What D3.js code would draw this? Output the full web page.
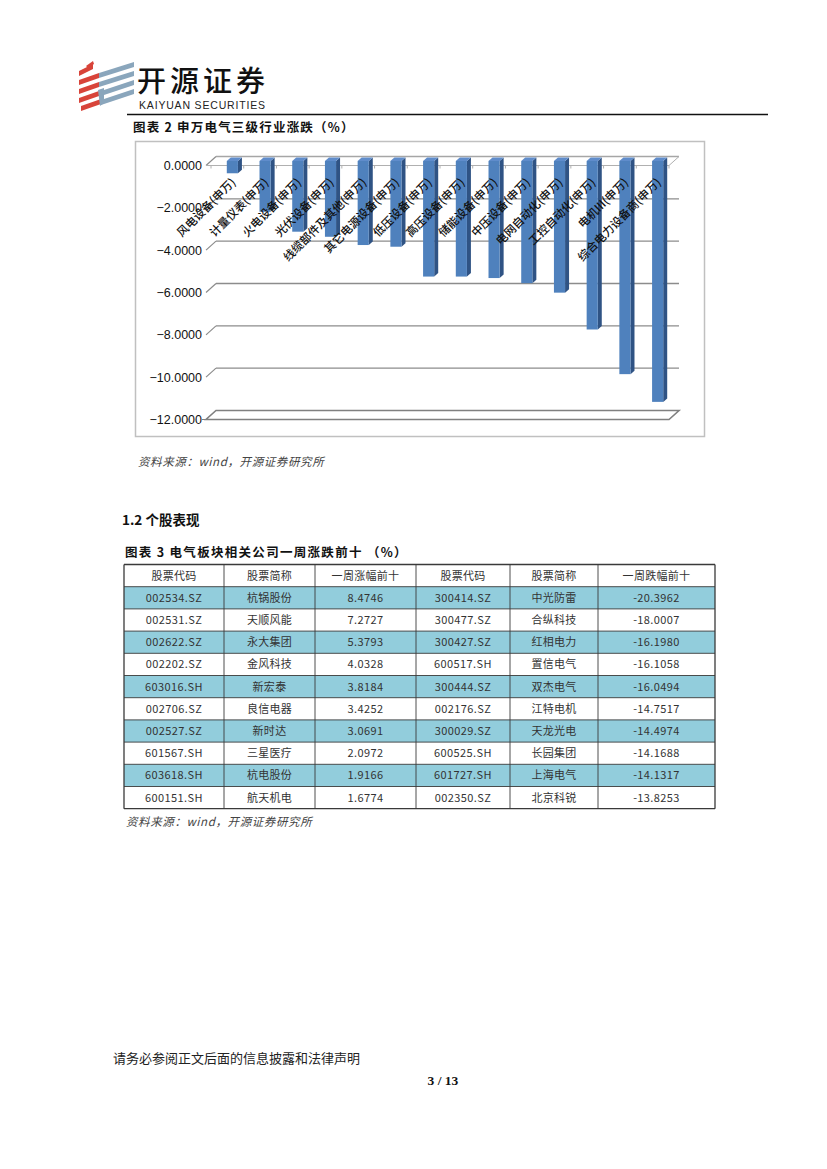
<!DOCTYPE html>
<html><head><meta charset="utf-8">
<script src="https://cdn.jsdelivr.net/npm/d3@7/dist/d3.min.js"></script>
<style>
html,body{margin:0;padding:0;background:#fff;}
svg{display:block;}
</style></head>
<body>
<svg id="page" width="827" height="1169"></svg>
<script>
// ---------- data ----------
const categories = ["风电设备(申万)","计量仪表(申万)","火电设备(申万)","光伏设备(申万)","线缆部件及其他(申万)","其它电源设备(申万)","低压设备(申万)","高压设备(申万)","储能设备(申万)","中压设备(申万)","电网自动化(申万)","工控自动化(申万)","电机III(申万)","综合电力设备商(申万)"];
const values = [-0.58,-2.40,-3.34,-3.58,-3.97,-4.05,-5.46,-5.46,-5.53,-5.77,-6.22,-7.96,-10.07,-11.38];
const yTicks = [0,-2,-4,-6,-8,-10,-12];

const tableHeaders = ["股票代码","股票简称","一周涨幅前十","股票代码","股票简称","一周跌幅前十"];
const upCodes = ["002534.SZ","002531.SZ","002622.SZ","002202.SZ","603016.SH","002706.SZ","002527.SZ","601567.SH","603618.SH","600151.SH"];
const upNames = ["杭锅股份","天顺风能","永大集团","金风科技","新宏泰","良信电器","新时达","三星医疗","杭电股份","航天机电"];
const upValues = ["8.4746","7.2727","5.3793","4.0328","3.8184","3.4252","3.0691","2.0972","1.9166","1.6774"];
const downCodes = ["300414.SZ","300477.SZ","300427.SZ","600517.SH","300444.SZ","002176.SZ","300029.SZ","600525.SH","601727.SH","002350.SZ"];
const downNames = ["中光防雷","合纵科技","红相电力","置信电气","双杰电气","江特电机","天龙光电","长园集团","上海电气","北京科锐"];
const downValues = ["-20.3962","-18.0007","-16.1980","-16.1058","-16.0494","-14.7517","-14.4974","-14.1688","-14.1317","-13.8253"];

// ---------- page ----------
const svg = d3.select("#page");
const CJK = "'Noto Sans CJK SC','Noto Sans',sans-serif";

// logo
const logo = svg.append("g");
const red = "#d8443a", blue = "#8aa6bc";
[[0,66],[0,75],[0,84],[0,93],[2,101]].forEach(([dx,yy],i)=>{
  const x0 = 79+dx, w = 20 - (i===0?6:0);
  logo.append("path").attr("fill",red)
    .attr("d",`M${x0},${yy+5} L${x0+w},${yy-2} L${x0+w},${yy+3} L${x0},${yy+10} Z`);
});
logo.append("path").attr("fill",red).attr("d","M86,66 L93,61 L94,64 L88,68 Z");
[[62],[71],[80],[89]].forEach(([yy],i)=>{
  const x0 = 99 + (i>1?2:0), x1 = 134;
  logo.append("path").attr("fill",blue)
    .attr("d",`M${x0},${yy+11} L${x1},${yy} L${x1},${yy+5} L${x0},${yy+16} Z`);
});
logo.append("path").attr("fill",blue).attr("d","M98,90 L104,88 L104,103 L100,106 Z");

svg.append("text").attr("x",137).attr("y",92).attr("font-family",CJK).attr("font-weight",500)
  .attr("font-size",29).attr("fill","#111").attr("textLength",128).text("开源证券");
svg.append("text").attr("x",139).attr("y",108.5).attr("font-family","'Liberation Sans',Arial,sans-serif")
  .attr("font-size",10.5).attr("fill","#222").attr("textLength",126).text("KAIYUAN SECURITIES");
svg.append("line").attr("x1",127).attr("x2",768).attr("y1",114.5).attr("y2",114.5).attr("stroke","#111").attr("stroke-width",1.3);

svg.append("text").attr("x",133).attr("y",132).attr("font-family",CJK).attr("font-weight",700)
  .attr("font-size",12.5).attr("letter-spacing",1.2).attr("fill","#111").text("图表 2 申万电气三级行业涨跌（%）");

// ---------- chart ----------
svg.append("rect").attr("x",135.5).attr("y",141.5).attr("width",569).attr("height",295)
  .attr("fill","#fff").attr("stroke","#c0c0c0").attr("stroke-width",1.5);

const PX0 = 211, PX1 = 674;   // mid-depth plot extents
const DX = 5, DY = -4.5;      // half-depth offset (towards back)
const x = d3.scaleBand().domain(categories).range([PX0+5, PX1]).padding(0);
const y = d3.scaleLinear().domain([0,-12]).range([161, 415]);

const chart = svg.append("g");
// back-wall gridlines with left diagonals
yTicks.filter(t=>t!==-12).forEach(t=>{
  chart.append("line").attr("x1",PX0+DX).attr("x2",PX1+DX).attr("y1",y(t)+DY).attr("y2",y(t)+DY)
    .attr("stroke",t===0?"#a6a6a6":"#8c8c8c").attr("stroke-width",1.3);
  chart.append("line").attr("x1",PX0-DX).attr("x2",PX0+DX).attr("y1",y(t)-DY).attr("y2",y(t)+DY)
    .attr("stroke","#8c8c8c").attr("stroke-width",1.2);
});
// floor at -12
const fy = -12;
chart.append("path").attr("fill","none").attr("stroke","#808080").attr("stroke-width",1.6)
  .attr("d",`M${PX0-DX},${y(fy)-DY} L${PX1-DX},${y(fy)-DY} L${PX1+DX},${y(fy)+DY} L${PX0+DX},${y(fy)+DY} Z`);
chart.append("line").attr("x1",PX0-DX-4).attr("x2",PX0-DX).attr("y1",y(fy)-DY).attr("y2",y(fy)-DY).attr("stroke","#808080");
// front category axis at 0
chart.append("line").attr("x1",PX0-DX).attr("x2",PX1-DX).attr("y1",y(0)-DY).attr("y2",y(0)-DY)
  .attr("stroke","#b0b0b0").attr("stroke-width",1);
chart.append("line").attr("x1",PX1-DX).attr("x2",PX1+DX).attr("y1",y(0)-DY).attr("y2",y(0)+DY)
  .attr("stroke","#b0b0b0").attr("stroke-width",1);
categories.concat([null]).forEach((c,i)=>{
  const xx = (c===null ? x.range()[1] : x(c)) - DX;
  chart.append("line").attr("x1",xx).attr("x2",xx).attr("y1",y(0)-DY).attr("y2",y(0)-DY+3)
    .attr("stroke","#b0b0b0");
});

// y tick labels
chart.selectAll("text.yt").data(yTicks).join("text").attr("class","yt")
  .attr("x",202).attr("y",t=>y(t)-DY).attr("dy","0.35em").attr("text-anchor","end")
  .attr("font-family","'Liberation Sans',Arial,sans-serif").attr("font-size",12.5).attr("fill","#111")
  .text(t=>d3.format(".4f")(t));

// bars
const bw = x.bandwidth()*0.34, bd = 4, bh = 3.5;
const bars = chart.selectAll("g.bar").data(categories.map((c,i)=>({c,v:values[i]}))).join("g").attr("class","bar");
bars.each(function(d){
  const g = d3.select(this);
  const xl = x(d.c) + (x.bandwidth()-bw)/2, xr = xl + bw;
  const y0 = y(0), y1 = y(d.v);
  g.append("path").attr("fill","#2f5384")
    .attr("d",`M${xr},${y0} L${xr+bd},${y0-bh} L${xr+bd},${y1-bh} L${xr},${y1} Z`);
  g.append("path").attr("fill","#5f8ccb")
    .attr("d",`M${xl},${y0} L${xl+bd},${y0-bh} L${xr+bd},${y0-bh} L${xr},${y0} Z`);
  g.append("rect").attr("x",xl).attr("y",y0).attr("width",bw).attr("height",y1-y0).attr("fill","#4f81bd");
});

// category labels (rotated)
chart.selectAll("text.cat").data(categories).join("text").attr("class","cat")
  .attr("transform",c=>`translate(${x(c)+x.bandwidth()/2+4},${y(0)+22}) rotate(-45)`)
  .attr("text-anchor","end").attr("font-family",CJK).attr("font-size",11.5).attr("font-weight",500).attr("fill","#111")
  .text(c=>c);

// source
svg.append("text").attr("x",138).attr("y",466).attr("font-family",CJK).attr("font-style","italic")
  .attr("font-size",11.5).attr("letter-spacing",0.6).attr("fill","#444").text("资料来源：wind，开源证券研究所");

svg.append("text").attr("x",122).attr("y",525).attr("font-family",CJK).attr("font-weight",700)
  .attr("font-size",13.5).attr("fill","#111").text("1.2 个股表现");
svg.append("text").attr("x",125).attr("y",557).attr("font-family",CJK).attr("font-weight",700)
  .attr("font-size",12.5).attr("letter-spacing",1.3).attr("fill","#111").text("图表 3 电气板块相关公司一周涨跌前十  （%）");

// ---------- table ----------
const colEdges = [124, 224, 315, 416, 510, 598, 715];
const rowTop = 564.5, rowH = 22.2;
const rows = [tableHeaders].concat(upCodes.map((c,i)=>[c,upNames[i],upValues[i],downCodes[i],downNames[i],downValues[i]]));
const tbl = svg.append("g");
rows.forEach((r,ri)=>{
  const yy = rowTop + ri*rowH;
  if (ri>0 && ri%2===1) {
    tbl.append("rect").attr("x",colEdges[0]).attr("y",yy).attr("width",colEdges[6]-colEdges[0]).attr("height",rowH).attr("fill","#92cddc");
  }
  r.forEach((t,ci)=>{
    tbl.append("text").attr("x",(colEdges[ci]+colEdges[ci+1])/2).attr("y",yy+rowH/2).attr("dy","0.36em")
      .attr("text-anchor","middle").attr("font-family",CJK).attr("font-size",11).attr("fill","#333")
      .attr("letter-spacing",(ri>0 && ci!==1 && ci!==4)?0.4:0.3).text(t);
  });
});
for (let i=0;i<=rows.length;i++){
  tbl.append("line").attr("x1",colEdges[0]).attr("x2",colEdges[6]).attr("y1",rowTop+i*rowH).attr("y2",rowTop+i*rowH)
    .attr("stroke","#3a3a3a").attr("stroke-width",(i===0||i===rows.length)?1.3:0.9);
}
colEdges.forEach((cx,i)=>{
  tbl.append("line").attr("x1",cx).attr("x2",cx).attr("y1",rowTop).attr("y2",rowTop+rows.length*rowH)
    .attr("stroke","#3a3a3a").attr("stroke-width",(i===0||i===6)?1.3:0.9);
});
svg.append("text").attr("x",126).attr("y",826).attr("font-family",CJK).attr("font-style","italic")
  .attr("font-size",11.5).attr("letter-spacing",0.6).attr("fill","#444").text("资料来源：wind，开源证券研究所");

// footer
svg.append("text").attr("x",113).attr("y",1063).attr("font-family",CJK)
  .attr("font-size",13).attr("fill","#222").text("请务必参阅正文后面的信息披露和法律声明");
svg.append("text").attr("x",443).attr("y",1085).attr("text-anchor","middle").attr("font-family","'Liberation Serif','Times New Roman',serif")
  .attr("font-weight",700).attr("font-size",13.5).attr("fill","#111").text("3 / 13");
</script>
</body></html>
